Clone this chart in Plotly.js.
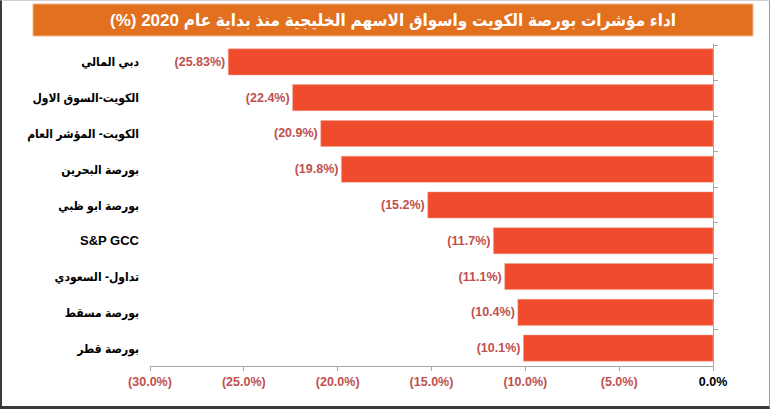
<!DOCTYPE html>
<html>
<head>
<meta charset="utf-8">
<script src="https://cdn.plot.ly/plotly-3.0.1.min.js"></script>
<style>
  html, body { margin: 0; padding: 0; background: #ffffff; }
  #frame {
    position: absolute; left: 0; top: 0; width: 770px; height: 409px;
    box-sizing: border-box; background: #ffffff;
    border-left: 2px solid #3a3a3a; border-bottom: 3px solid #3a3a3a;
    border-top: 1px solid #d0d0d0; border-right: 1px solid #9a9a9a;
  }
  #chart { position: absolute; left: 0; top: 0; width: 770px; height: 409px; }
</style>
</head>
<body>
<div id="frame"></div>
<div id="chart"></div>
<script>
// ---- data ----
const categories = [
  "دبي المالي",
  "الكويت-السوق الاول",
  "الكويت- المؤشر العام",
  "بورصة البحرين",
  "بورصة ابو ظبي",
  "S&amp;P GCC",
  "تداول- السعودي",
  "بورصة مسقط",
  "بورصة قطر"
];
const values = [-25.83, -22.4, -20.9, -19.8, -15.2, -11.7, -11.1, -10.4, -10.1];
const valueLabels = ["(25.83%)", "(22.4%)", "(20.9%)", "(19.8%)", "(15.2%)", "(11.7%)", "(11.1%)", "(10.4%)", "(10.1%)"];
const xTickVals = [-30, -25, -20, -15, -10, -5, 0];
const xTickText = ["(30.0%)", "(25.0%)", "(20.0%)", "(15.0%)", "(10.0%)", "(5.0%)", "0.0%"];
const titleText = "اداء مؤشرات بورصة الكويت واسواق الاسهم الخليجية منذ بداية عام 2020 (%)";

const FONT = "Liberation Sans, DejaVu Sans Condensed, DejaVu Sans, sans-serif";
const RED_TEXT = "#C0504D";

// styling applied at build time (kept out of the data arrays)
const isArabic = s => /[\u0600-\u06FF]/.test(s);
const yTickText = categories.map(c => isArabic(c) ? '<span style="font-size:12px">' + c + '</span>' : c);
const xTickTextStyled = xTickText.map((t, i) => xTickVals[i] === 0 ? '<span style="color:#000000">' + t + '</span>' : t);

const traces = [
  {
    type: "bar",
    orientation: "h",
    x: values,
    y: categories,
    text: valueLabels,
    textposition: "outside",
    cliponaxis: false,
    textfont: { family: FONT, size: 12.5, color: RED_TEXT, weight: "bold" },
    marker: { color: "#EF4B2C", line: { color: "#F3A391", width: 0.5 } },
    hoverinfo: "x+y"
  },
  {
    type: "scatter",
    mode: "markers",
    x: values,
    y: categories,
    yaxis: "y2",
    marker: { opacity: 0, size: 1 },
    hoverinfo: "skip",
    showlegend: false
  }
];

const layout = {
  width: 770,
  height: 409,
  margin: { l: 150, r: 57, t: 44, b: 43 },
  paper_bgcolor: "rgba(0,0,0,0)",
  plot_bgcolor: "rgba(0,0,0,0)",
  showlegend: false,
  bargap: 0.27,
  title: {
    text: "<b>" + titleText + "\u200F</b>",
    font: { family: FONT, size: 17, color: "#ffffff" },
    x: 0.5104, xref: "container", xanchor: "center",
    y: 0.951, yref: "container", yanchor: "middle"
  },
  xaxis: {
    range: [-30, 0],
    tickvals: xTickVals,
    ticktext: xTickTextStyled,
    tickfont: { family: FONT, size: 12.5, color: RED_TEXT, weight: "bold" },
    showgrid: false,
    zeroline: false,
    showline: true,
    linecolor: "#A6A6A6",
    linewidth: 1,
    ticks: "outside",
    ticklen: 4,
    tickcolor: "#A6A6A6",
    fixedrange: true
  },
  yaxis: {
    autorange: "reversed",
    tickvals: categories,
    ticktext: yTickText,
    showgrid: false,
    zeroline: false,
    showline: false,
    ticks: "",
    ticklabelstandoff: 10,
    tickfont: { family: FONT, size: 13, color: "#000000", weight: "bold" },
    fixedrange: true
  },
  yaxis2: {
    overlaying: "y",
    side: "right",
    autorange: "reversed",
    showgrid: false,
    zeroline: false,
    showline: true,
    linecolor: "#A6A6A6",
    linewidth: 1,
    ticks: "outside",
    tickson: "boundaries",
    ticklen: 4,
    tickcolor: "#A6A6A6",
    showticklabels: false,
    fixedrange: true
  },
  shapes: [
    {
      type: "rect", xref: "paper", yref: "paper",
      x0: -0.2078, x1: 1.071, y0: 1.0248, y1: 1.1242,
      fillcolor: "#E2701F",
      line: { color: "#F2B48A", width: 1 },
      layer: "below"
    }
  ]
};

Plotly.newPlot("chart", traces, layout, { displayModeBar: false, staticPlot: true });
</script>
</body>
</html>
